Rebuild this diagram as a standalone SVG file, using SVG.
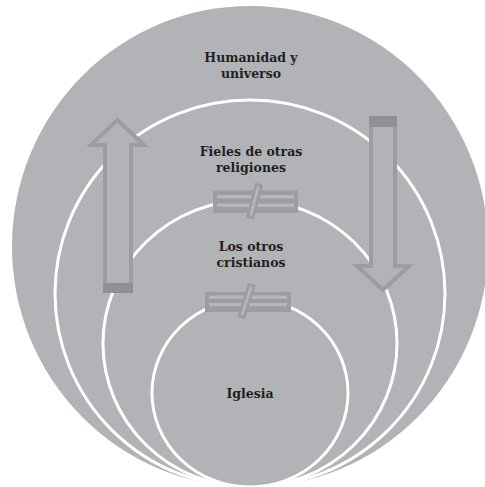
<svg xmlns="http://www.w3.org/2000/svg" width="485" height="487" viewBox="0 0 485 487">
  <defs>
    <style>
      .ring { fill: #b2b3b6; stroke: #ffffff; stroke-width: 3; }
      .outer { fill: #b2b3b6; stroke: none; }
      .lbl { font-family: "DejaVu Serif", "Liberation Serif", serif; font-weight: bold; font-size: 12.5px; fill: #231f20; text-anchor: middle; }
      .arrow { fill: #b2b3b6; stroke: #9c9da0; stroke-width: 4; stroke-linejoin: miter; }
      .cap { fill: #8f9093; }
      .neqbox { fill: #9c9da0; }
      .neqbar { fill: #b6b7ba; }
    </style>
  </defs>
  <rect width="485" height="487" fill="#ffffff"/>

  <g id="humanidad">
    <ellipse class="outer" cx="250" cy="246.5" rx="238" ry="240.5"/>
    <text class="lbl" x="251" y="62">Humanidad y</text>
    <text class="lbl" x="251" y="78">universo</text>
  </g>

  <g id="fieles">
    <ellipse class="ring" cx="250" cy="293.5" rx="195" ry="193.5"/>
    <text class="lbl" x="251" y="156">Fieles de otras</text>
    <text class="lbl" x="251" y="172">religiones</text>
  </g>

  <g id="otros-cristianos">
    <ellipse class="ring" cx="250" cy="343.5" rx="147" ry="143.5"/>
    <text class="lbl" x="251" y="251">Los otros</text>
    <text class="lbl" x="251" y="267">cristianos</text>
  </g>

  <g id="iglesia">
    <ellipse class="ring" cx="250" cy="393" rx="98" ry="94"/>
    <text class="lbl" x="250" y="398">Iglesia</text>
  </g>

  <g id="neq-1">
    <rect class="neqbox" x="213" y="190.5" width="85" height="22.5"/>
    <rect class="neqbar" x="217" y="195" width="77" height="3.5"/>
    <rect class="neqbar" x="217" y="203.5" width="77" height="3.5"/>
    <g transform="translate(254.5,201) rotate(15)">
      <rect class="neqbox" x="-4" y="-18" width="8" height="36"/>
      <rect class="neqbar" x="-1.3" y="-15" width="2.6" height="30"/>
    </g>
  </g>

  <g id="neq-2">
    <rect class="neqbox" x="205" y="292" width="86" height="20"/>
    <rect class="neqbar" x="209" y="295.5" width="78" height="3.2"/>
    <rect class="neqbar" x="209" y="303" width="78" height="3.2"/>
    <g transform="translate(246.5,301) rotate(18)">
      <rect class="neqbox" x="-4" y="-18" width="8" height="36"/>
      <rect class="neqbar" x="-1.3" y="-15" width="2.6" height="30"/>
    </g>
  </g>

  <g id="connectors">
    <g id="arrow-up">
      <path class="arrow" d="M105,291 L105,145 L91,145 L117.5,120 L144,145 L131,145 L131,291 Z"/>
      <rect class="cap" x="103" y="283" width="30" height="10"/>
    </g>
    <g id="arrow-down">
      <path class="arrow" d="M371,118 L371,266 L357,266 L383,290 L409,266 L395,266 L395,118 Z"/>
      <rect class="cap" x="369" y="116" width="28" height="11"/>
    </g>
  </g>
</svg>
